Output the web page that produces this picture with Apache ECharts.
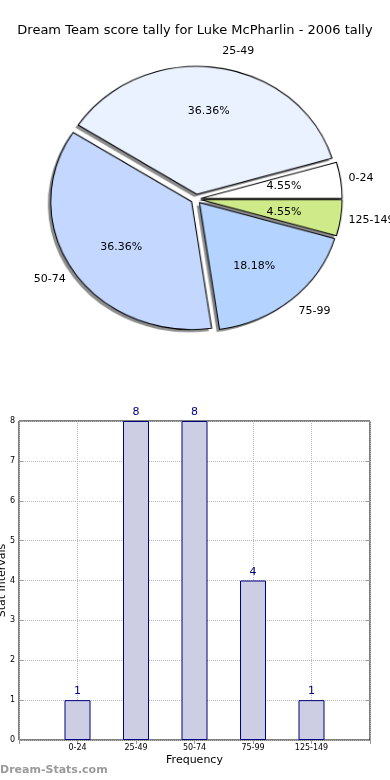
<!DOCTYPE html>
<html>
<head>
<meta charset="utf-8">
<script src="https://cdn.jsdelivr.net/npm/echarts@6/dist/echarts.min.js"></script>
<style>
html,body{margin:0;padding:0;background:#fff;}
#wrap{position:relative;width:390px;height:780px;overflow:hidden;}
#p{position:absolute;left:0;top:0;width:390px;height:400px;transform-origin:196px 199px;transform:scale(1.044,0.948);}
#c{position:absolute;left:0;top:0;width:390px;height:780px;}
</style>
</head>
<body>
<div id="wrap"><div id="p"></div><div id="c"></div></div>
<script>
const titleText = 'Dream Team score tally for Luke McPharlin - 2006 tally';
const categories = ['0-24', '25-49', '50-74', '75-99', '125-149'];
const counts = [1, 8, 8, 4, 1];
const sliceColors = ['#ffffff', '#eaf1ff', '#c4d8ff', '#b4d4ff', '#cfea89'];
const yTicks = [0, 1, 2, 3, 4, 5, 6, 7, 8];
const xAxisName = 'Frequency';
const yAxisName = 'Stat Intervals';
const watermark = 'Dream-Stats.com';

const total = counts.reduce((a, b) => a + b, 0);
const FONT = 'DejaVu Sans';
const R = 135;
const CENTER = [196, 199];
const SHADOW_CENTER = [193.3, 201.8];

function pieItems(withColor) {
  return categories.map((c, i) => {
    const d = { name: c, value: counts[i], selected: true };
    if (withColor) d.itemStyle = { color: sliceColors[i] };
    return d;
  });
}
const commonPie = {
  type: 'pie', startAngle: 0, clockwise: false,
  selectedMode: 'multiple', selectedOffset: 5,
  avoidLabelOverlap: false, minShowLabelAngle: 0,
  emphasis: { disabled: true }
};

// Pie wedges (drawn in an elliptically scaled layer, like the reference)
const pie = echarts.init(document.getElementById('p'), null, { renderer: 'canvas' });
pie.setOption({
  animation: false,
  backgroundColor: 'transparent',
  series: [
    Object.assign({}, commonPie, {
      silent: true,
      center: SHADOW_CENTER, radius: R,
      data: pieItems(false),
      itemStyle: { color: 'rgba(0,0,0,0.45)', borderWidth: 0 },
      select: { itemStyle: { color: 'rgba(0,0,0,0.45)', borderWidth: 0 } },
      label: { show: false }, labelLine: { show: false }
    }),
    Object.assign({}, commonPie, {
      center: CENTER, radius: R,
      data: pieItems(true),
      itemStyle: { borderColor: '#000', borderWidth: 1.05 },
      select: { itemStyle: { borderColor: '#000', borderWidth: 1.05 } },
      label: { show: false }, labelLine: { show: false }
    })
  ]
});

const chart = echarts.init(document.getElementById('c'), null, { renderer: 'canvas' });
chart.setOption({
  animation: false,
  backgroundColor: 'transparent',
  title: {
    text: titleText, left: 'center', top: 19,
    textStyle: { fontFamily: FONT, fontSize: 13, fontWeight: 'normal', color: '#000' }
  },
  graphic: [{
    type: 'text', left: 0, top: 765,
    style: { text: watermark, fill: '#9a9a9a', font: 'bold 11px "DejaVu Sans"' }
  }],
  grid: {
    left: 19, right: 20, top: 421, bottom: 40,
    containLabel: false, outerBoundsMode: 'none',
    show: true, borderColor: '#000', borderWidth: 1, backgroundColor: 'transparent'
  },
  xAxis: [{
    type: 'category',
    data: [''].concat(categories, ['']),
    boundaryGap: false,
    name: xAxisName, nameLocation: 'middle', nameGap: 15, nameMoveOverlap: false,
    nameTextStyle: { fontFamily: FONT, fontSize: 11, color: '#000' },
    axisLine: { show: false },
    axisTick: { show: true, inside: true, length: 4, interval: 0, lineStyle: { color: '#999' } },
    axisLabel: { interval: 0, fontFamily: FONT, fontSize: 8, color: '#000', margin: 4 },
    splitLine: { show: true, interval: 0, lineStyle: { color: '#b8b8b8', type: 'dotted', width: 1 } }
  }, {
    type: 'category', position: 'top',
    data: [''].concat(categories, ['']),
    boundaryGap: false,
    axisLine: { show: false },
    axisTick: { show: true, inside: true, length: 4, interval: 0, lineStyle: { color: '#999' } },
    axisLabel: { show: false },
    splitLine: { show: false }
  }],
  yAxis: [{
    type: 'value', min: 0, max: 8, interval: 1,
    name: yAxisName, nameLocation: 'middle', nameGap: 11, nameRotate: 90, nameMoveOverlap: false,
    nameTextStyle: { fontFamily: FONT, fontSize: 11, color: '#000' },
    axisLine: { show: false },
    axisTick: { show: true, inside: true, length: 4, lineStyle: { color: '#999' } },
    axisLabel: { fontFamily: FONT, fontSize: 8, color: '#000', margin: 4,
      formatter: v => yTicks.indexOf(v) >= 0 ? String(v) : '' },
    splitLine: { show: true, lineStyle: { color: '#b8b8b8', type: 'dotted', width: 1 } }
  }, {
    type: 'value', min: 0, max: 8, interval: 1, position: 'right',
    axisLine: { show: false },
    axisTick: { show: true, inside: true, length: 4, lineStyle: { color: '#999' } },
    axisLabel: { show: false },
    splitLine: { show: false }
  }],
  series: [
    Object.assign({}, commonPie, {
      silent: true,
      center: CENTER, radius: R,
      data: pieItems(false),
      itemStyle: { color: 'rgba(0,0,0,0)', borderWidth: 0 },
      select: { itemStyle: { color: 'rgba(0,0,0,0)', borderWidth: 0 } },
      label: {
        show: true, position: 'outside', formatter: '{b}',
        fontFamily: FONT, fontSize: 11, color: '#000', distanceToLabelLine: 5
      },
      labelLine: { show: false, length: 9, length2: 0 }
    }),
    Object.assign({}, commonPie, {
      silent: true,
      center: CENTER, radius: [R * 0.2, R],
      data: pieItems(false),
      itemStyle: { color: 'rgba(0,0,0,0)', borderWidth: 0 },
      select: { itemStyle: { color: 'rgba(0,0,0,0)', borderWidth: 0 } },
      label: {
        show: true, position: 'inside',
        formatter: p => (p.value / total * 100).toFixed(2) + '%',
        fontFamily: FONT, fontSize: 11, color: '#000'
      },
      labelLine: { show: false }
    }),
    {
      type: 'bar',
      xAxisIndex: 0, yAxisIndex: 0,
      data: ['-'].concat(counts, ['-']),
      barWidth: 26,
      itemStyle: { color: '#cdcde3', borderColor: '#000080', borderWidth: 1 },
      label: { show: true, position: 'top', distance: 3, fontFamily: FONT, fontSize: 11, color: '#000080' }
    }
  ]
});
</script>
</body>
</html>
